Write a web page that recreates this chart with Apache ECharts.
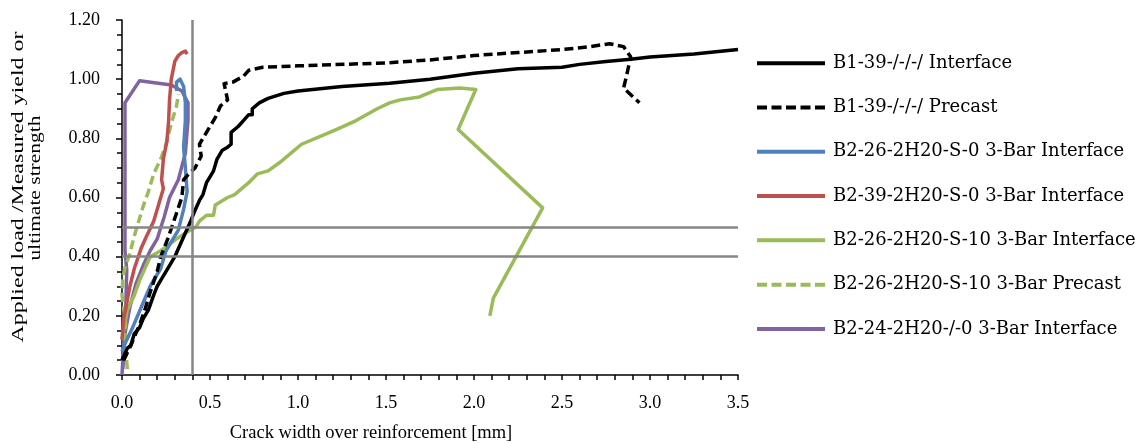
<!DOCTYPE html>
<html>
<head>
<meta charset="utf-8">
<script src="https://cdn.jsdelivr.net/npm/echarts@6/dist/echarts.min.js"></script>
<style>
  html, body { margin: 0; padding: 0; background: #fff; }
  #chart { width: 1139px; height: 443px; }
</style>
</head>
<body>
<div id="chart"></div>
<script>
// Crack width [mm] vs. applied load / measured yield or ultimate strength, as [x, y] pairs
const b1Interface = [
  [0.00, 0.05], [0.03, 0.09], [0.05, 0.10], [0.07, 0.14], [0.10, 0.16], [0.12, 0.19],
  [0.15, 0.22], [0.18, 0.27], [0.20, 0.30], [0.23, 0.33], [0.27, 0.37], [0.30, 0.40],
  [0.33, 0.44], [0.36, 0.48], [0.39, 0.52], [0.41, 0.55], [0.44, 0.59], [0.46, 0.61],
  [0.48, 0.65], [0.50, 0.67], [0.52, 0.69], [0.54, 0.73], [0.57, 0.76], [0.60, 0.77],
  [0.62, 0.78], [0.62, 0.82], [0.66, 0.84], [0.69, 0.86], [0.72, 0.88], [0.74, 0.88],
  [0.74, 0.90], [0.78, 0.92], [0.83, 0.935], [0.92, 0.952], [1.00, 0.96], [1.25, 0.975],
  [1.52, 0.986], [1.75, 1.00], [2.00, 1.02], [2.25, 1.035], [2.50, 1.04], [2.60, 1.05],
  [2.75, 1.06], [2.89, 1.067], [3.00, 1.075], [3.25, 1.085], [3.50, 1.10]
];
const b1Precast = [
  [0.01, 0.05], [0.05, 0.10], [0.10, 0.17], [0.13, 0.22], [0.16, 0.28], [0.20, 0.35],
  [0.22, 0.40], [0.26, 0.46], [0.30, 0.53], [0.34, 0.60], [0.35, 0.66], [0.38, 0.68],
  [0.415, 0.70], [0.45, 0.74], [0.44, 0.78], [0.49, 0.83], [0.53, 0.87], [0.56, 0.91],
  [0.60, 0.93], [0.58, 0.985], [0.63, 0.99], [0.69, 1.01], [0.72, 1.03], [0.80, 1.04],
  [1.00, 1.045], [1.50, 1.055], [1.75, 1.065], [2.00, 1.08], [2.25, 1.09], [2.50, 1.10],
  [2.66, 1.11], [2.77, 1.12], [2.85, 1.11], [2.89, 1.076], [2.87, 1.02], [2.85, 0.97],
  [2.94, 0.92]
];
const b2s26Interface = [
  [0.00, 0.08], [0.02, 0.11], [0.06, 0.16], [0.11, 0.23], [0.16, 0.30], [0.22, 0.36],
  [0.25, 0.42], [0.32, 0.49], [0.35, 0.56], [0.37, 0.62], [0.36, 0.70], [0.35, 0.77],
  [0.36, 0.86], [0.36, 0.92], [0.35, 0.975], [0.33, 1.00], [0.31, 0.99], [0.31, 0.96]
];
const b2s39Interface = [
  [0.00, 0.12], [0.01, 0.19], [0.02, 0.22], [0.045, 0.30], [0.07, 0.36], [0.11, 0.43],
  [0.14, 0.47], [0.18, 0.52], [0.215, 0.59], [0.235, 0.63], [0.225, 0.66], [0.235, 0.73],
  [0.255, 0.79], [0.265, 0.86], [0.27, 0.93], [0.28, 1.00], [0.29, 1.03], [0.30, 1.06],
  [0.32, 1.08], [0.34, 1.09], [0.36, 1.095], [0.37, 1.085]
];
const b2s10Interface = [
  [0.00, 0.12], [0.03, 0.22], [0.07, 0.27], [0.10, 0.32], [0.13, 0.36], [0.16, 0.40],
  [0.22, 0.42], [0.31, 0.46], [0.36, 0.48], [0.42, 0.50], [0.44, 0.52], [0.48, 0.54],
  [0.52, 0.54], [0.53, 0.575], [0.60, 0.60], [0.64, 0.61], [0.72, 0.65], [0.77, 0.68],
  [0.83, 0.69], [0.90, 0.72], [0.96, 0.75], [1.02, 0.78], [1.14, 0.81], [1.22, 0.83],
  [1.33, 0.86], [1.45, 0.90], [1.52, 0.92], [1.58, 0.93], [1.69, 0.94], [1.79, 0.965],
  [1.92, 0.97], [2.01, 0.965], [1.91, 0.83], [2.39, 0.565], [2.11, 0.26], [2.09, 0.20]
];
const b2s10Precast = [
  [0.03, 0.02], [0.02, 0.10], [0.02, 0.18], [0.00, 0.27], [0.005, 0.33], [0.02, 0.37],
  [0.045, 0.41], [0.065, 0.46], [0.09, 0.51], [0.12, 0.57], [0.15, 0.62], [0.16, 0.64],
  [0.18, 0.68], [0.22, 0.73], [0.25, 0.78], [0.28, 0.85], [0.31, 0.91], [0.32, 0.95]
];
const b2s24Interface = [
  [0.00, 0.00], [0.01, 0.11], [0.02, 0.15], [0.045, 0.23], [0.08, 0.31], [0.12, 0.37],
  [0.16, 0.42], [0.20, 0.46], [0.24, 0.535], [0.27, 0.60], [0.32, 0.66], [0.36, 0.75],
  [0.375, 0.86], [0.375, 0.92], [0.34, 0.96], [0.28, 0.98], [0.10, 0.995], [0.017, 0.92],
  [0.017, 0.42], [0.027, 0.355], [0.017, 0.14], [0.005, 0.02]
];

const seriesNames = [
  'B1-39-/-/-/ Interface',
  'B1-39-/-/-/ Precast',
  'B2-26-2H20-S-0 3-Bar Interface',
  'B2-39-2H20-S-0 3-Bar Interface',
  'B2-26-2H20-S-10 3-Bar Interface',
  'B2-26-2H20-S-10 3-Bar Precast',
  'B2-24-2H20-/-0 3-Bar Interface'
];
const seriesData = [b1Interface, b1Precast, b2s26Interface, b2s39Interface, b2s10Interface, b2s10Precast, b2s24Interface];
const seriesColors = ['#000000', '#000000', '#4F81BD', '#C0504D', '#9BBB59', '#9BBB59', '#8064A2'];
const seriesDashed = [false, true, false, false, false, true, false];

// Reference limits: crack width 0.4 mm, load ratios 0.4 and 0.5
const limitCrackWidth = [0.4];
const limitLoadRatio = [0.4, 0.5];

const xTicks = { min: 0, max: 3.5, step: 0.5 };
const yTicks = { min: 0, max: 1.2, step: 0.2 };

const serif = '"Liberation Serif", "Times New Roman", serif';
const wideSerif = '"DejaVu Serif", serif';

// Legend keys: a solid bar, or a row of dashes for the dashed series
const solidKey = 'path://M0,0h68v4h-68z';
const dashedKey = 'path://M0,0h10v4h-10z M14.5,0h10v4h-10z M29,0h10v4h-10z M43.5,0h10v4h-10z M58,0h10v4h-10z';

const chart = echarts.init(document.getElementById('chart'), null, { renderer: 'canvas' });

const series = seriesNames.map((name, i) => ({
  name,
  type: 'line',
  data: seriesData[i],
  showSymbol: false,
  symbol: 'none',
  smooth: false,
  z: 2 + (seriesNames.length - i) * 0.01,
  lineStyle: {
    color: seriesColors[i],
    width: 3.5,
    type: seriesDashed[i] ? [9, 4.5] : 'solid',
    cap: 'butt',
    join: 'round'
  },
  itemStyle: { color: seriesColors[i] }
}));

series.push({
  name: 'limits',
  type: 'line',
  data: [],
  silent: true,
  z: 5,
  markLine: {
    silent: true,
    symbol: ['none', 'none'],
    label: { show: false },
    animation: false,
    lineStyle: { color: '#868686', width: 2.5, type: 'solid' },
    data: [
      ...limitCrackWidth.map(v => ({ xAxis: v })),
      ...limitLoadRatio.map(v => ({ yAxis: v }))
    ]
  }
});

// Stretch the rotated axis title lines to their drawn lengths
function fitScale(text, font, targetLen) {
  const ctx = document.createElement('canvas').getContext('2d');
  ctx.font = font;
  return targetLen / ctx.measureText(text).width;
}
const yTitle1 = 'Applied load /Measured yield or';
const yTitle2 = 'ultimate strength';
const yTitleFont = '17px "Liberation Serif"';
const yTitleScale1 = fitScale(yTitle1, yTitleFont, 311);
const yTitleScale2 = fitScale(yTitle2, yTitleFont, 145);

chart.setOption({
  animation: false,
  backgroundColor: '#ffffff',
  grid: { left: 122, right: 401, top: 20, bottom: 68, containLabel: false },
  xAxis: {
    type: 'value',
    min: xTicks.min,
    max: xTicks.max,
    interval: xTicks.step,
    axisLine: { show: true, onZero: false, lineStyle: { color: '#000', width: 1.5 } },
    axisTick: { show: true, length: 5, lineStyle: { color: '#000', width: 1.5 } },
    minorTick: { show: true, splitNumber: 5, length: 5, lineStyle: { color: '#000', width: 1.5 } },
    splitLine: { show: false },
    axisLabel: {
      color: '#000', fontFamily: serif, fontSize: 18, margin: 19,
      formatter: v => v.toFixed(1)
    }
  },
  yAxis: {
    type: 'value',
    min: yTicks.min,
    max: yTicks.max,
    interval: yTicks.step,
    axisLine: { show: true, onZero: false, lineStyle: { color: '#000', width: 1.5 } },
    axisTick: { show: true, length: 6, lineStyle: { color: '#000', width: 1.5 } },
    minorTick: { show: true, splitNumber: 4, length: 5, lineStyle: { color: '#000', width: 1.5 } },
    splitLine: { show: false },
    axisLabel: {
      color: '#000', fontFamily: serif, fontSize: 18, margin: 22,
      formatter: v => v.toFixed(2)
    }
  },
  legend: {
    orient: 'vertical',
    left: 757,
    top: 52,
    padding: 0,
    itemWidth: 68,
    itemHeight: 4,
    itemGap: 22,
    data: seriesNames.map((name, i) => ({
      name,
      icon: seriesDashed[i] ? dashedKey : solidKey,
      itemStyle: { color: seriesColors[i], borderWidth: 0 }
    })),
    textStyle: { color: '#000', fontFamily: wideSerif, fontSize: 18, lineHeight: 22.3, padding: [0, 0, 0, 3] },
    selectedMode: false
  },
  graphic: [
    {
      type: 'text',
      x: 18.5, y: 187, rotation: Math.PI / 2, scaleX: yTitleScale1,
      style: {
        text: yTitle1,
        font: yTitleFont, fill: '#000',
        textAlign: 'center', textVerticalAlign: 'middle'
      }
    },
    {
      type: 'text',
      x: 36, y: 188, rotation: Math.PI / 2, scaleX: yTitleScale2,
      style: {
        text: yTitle2,
        font: yTitleFont, fill: '#000',
        textAlign: 'center', textVerticalAlign: 'middle'
      }
    },
    {
      type: 'text',
      x: 371, y: 433,
      style: {
        text: 'Crack width over reinforcement [mm]',
        fontFamily: serif, fontSize: 18.5, fill: '#000',
        textAlign: 'center', textVerticalAlign: 'middle'
      }
    }
  ],
  series
});
</script>
</body>
</html>
